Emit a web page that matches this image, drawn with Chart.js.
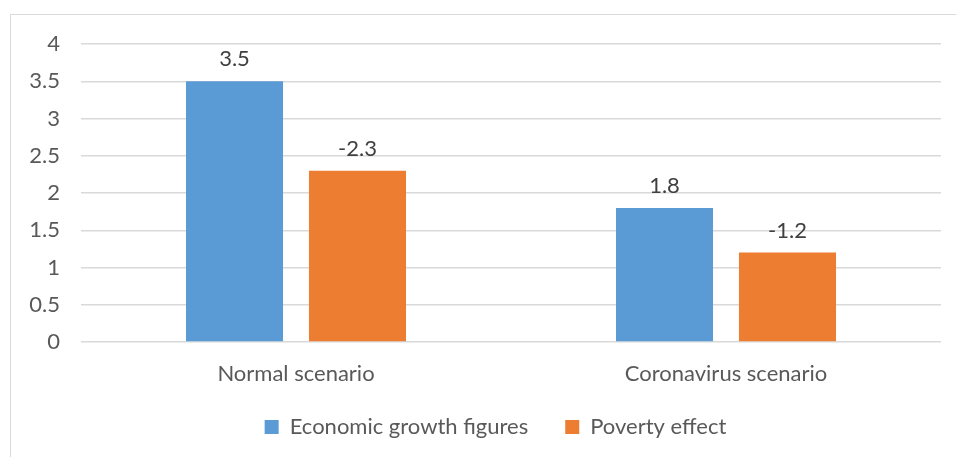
<!DOCTYPE html>
<html>
<head>
<meta charset="utf-8">
<script src="https://cdn.jsdelivr.net/npm/chart.js@4.4.1/dist/chart.umd.min.js"></script>
<style>
    html, body { margin: 0; padding: 0; background: #fff; }
    #wrap { position: relative; width: 956px; height: 457px; overflow: hidden; }
    #frame { position: absolute; left: 10px; top: 14px; width: 1000px; height: 500px; border: 1px solid #d9d9d9; }
    #chart { position: absolute; left: 0; top: 0; }
</style>
</head>
<body>
<div id="wrap">
    <div id="frame"></div>
    <canvas id="chart" width="956" height="457"></canvas>
</div>
<script>
// Chart data
const categories = ['Normal scenario', 'Coronavirus scenario'];
const growthValues = [3.5, 1.8];
const povertyValues = [2.3, 1.2];
// labels printed above the bars (poverty shown as negative)
const growthLabels = ['3.5', '1.8'];
const povertyLabels = ['-2.3', '-1.2'];
const seriesNames = ['Economic growth figures', 'Poverty effect'];

const FONT = 'Lato, "Open Sans", sans-serif';
const TEXT = '#595959';

// draws the value label above each bar
const barLabels = {
    id: 'barLabels',
    afterDatasetsDraw(chart) {
        const ctx = chart.ctx;
        ctx.save();
        ctx.font = '22px ' + FONT;
        ctx.fillStyle = '#404040';
        ctx.textAlign = 'center';
        ctx.textBaseline = 'alphabetic';
        chart.data.datasets.forEach((ds, i) => {
            chart.getDatasetMeta(i).data.forEach((bar, j) => {
                ctx.fillText(ds.valueLabels[j], bar.x, bar.y - 15);
            });
        });
        ctx.restore();
    }
};

// legend: fixed height, then moved to where the original sits
const legendPlace = {
    id: 'legendPlace',
    beforeUpdate(chart) {
        const lg = chart.legend;
        if (lg && !lg._patched) {
            const orig = lg.fit;
            lg.fit = function () {
                orig.call(this);
                this.height = 67;
            };
            lg._patched = true;
        }
    },
    afterLayout(chart) {
        const lg = chart.legend;
        lg.top = 379;
        lg.bottom = 457;
        lg.left = 35;
        lg.right = 956;
        lg.width = lg.right - lg.left;
        lg.height = lg.bottom - lg.top;
    }
};

const ctx = document.getElementById('chart').getContext('2d');
new Chart(ctx, {
    type: 'bar',
    data: {
        labels: categories,
        datasets: [{
            label: seriesNames[0],
            data: growthValues,
            valueLabels: growthLabels,
            backgroundColor: '#5b9bd5'
        }, {
            label: seriesNames[1],
            data: povertyValues,
            valueLabels: povertyLabels,
            backgroundColor: '#ed7d31'
        }]
    },
    options: {
        responsive: false,
        animation: false,
        devicePixelRatio: 1,
        layout: { padding: { top: 44, right: 15, left: 0, bottom: 0 } },
        datasets: {
            bar: { categoryPercentage: 0.572, barPercentage: 0.789 }
        },
        plugins: {
            legend: {
                position: 'bottom',
                labels: {
                    boxWidth: 14,
                    boxHeight: 14,
                    padding: 37,
                    color: TEXT,
                    font: { family: FONT, size: 22 }
                }
            },
            tooltip: { enabled: false }
        },
        scales: {
            x: {
                grid: { display: false, drawTicks: false },
                border: { display: false },
                ticks: { color: TEXT, padding: 19, font: { family: FONT, size: 22 } },
                afterFit: s => { s.height = 48; }
            },
            y: {
                min: 0,
                max: 4,
                grid: { color: '#d9d9d9', lineWidth: 1.5, drawTicks: false },
                border: { display: false },
                ticks: {
                    stepSize: 0.5,
                    color: TEXT,
                    padding: 21,
                    font: { family: FONT, size: 22 },
                    callback: v => String(v)
                },
                afterFit: s => { s.width = 81; }
            }
        }
    },
    plugins: [barLabels, legendPlace]
});
</script>
</body>
</html>
